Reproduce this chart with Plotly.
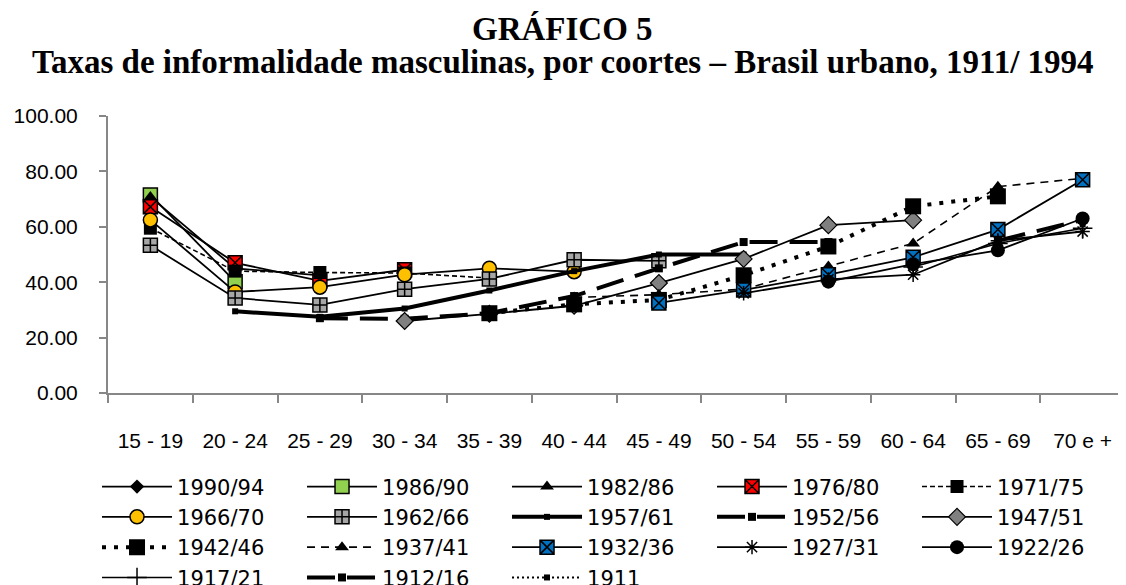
import plotly.graph_objects as go

ages = ["15 - 19", "20 - 24", "25 - 29", "30 - 34", "35 - 39", "40 - 44",
        "45 - 49", "50 - 54", "55 - 59", "60 - 64", "65 - 69", "70 e +"]

N = None
c1990_94 = [70.0, N, N, N, N, N, N, N, N, N, N, N]
c1986_90 = [71.5, 40.2, N, N, N, N, N, N, N, N, N, N]
c1982_86 = [70.8, 45.0, 42.5, N, N, N, N, N, N, N, N, N]
c1976_80 = [67.2, 47.0, 40.5, 44.5, N, N, N, N, N, N, N, N]
c1971_75 = [59.5, 44.0, 43.5, 43.3, 41.5, N, N, N, N, N, N, N]
c1966_70 = [62.5, 36.5, 38.2, 42.7, 45.0, 43.8, N, N, N, N, N, N]
c1962_66 = [53.3, 34.3, 31.8, 37.5, 41.2, 48.1, 47.7, N, N, N, N, N]
c1957_61 = [N, 29.5, 27.5, 30.5, 37.0, 44.0, 50.0, 50.0, N, N, N, N]
c1952_56 = [N, N, 27.0, 26.8, 28.8, 35.0, 45.0, 54.5, 54.5, N, N, N]
c1947_51 = [N, N, N, 26.0, 28.6, 31.5, 39.7, 48.4, 60.6, 62.4, N, N]
c1942_46 = [N, N, N, N, 28.8, 32.0, 33.6, 42.5, 52.9, 67.4, 71.0, N]
c1937_41 = [N, N, N, N, N, 34.5, 35.5, 37.5, 45.7, 54.0, 74.5, 77.5]
c1932_36 = [N, N, N, N, N, N, 32.5, 37.2, 42.7, 49.0, 59.0, 77.0]
c1927_31 = [N, N, N, N, N, N, N, 36.0, 41.0, 42.7, 55.0, 58.3]
c1922_26 = [N, N, N, N, N, N, N, N, 40.2, 46.5, 51.5, 63.0]
c1917_21 = [N, N, N, N, N, N, N, N, N, 45.5, 54.0, 59.5]
c1912_16 = [N, N, N, N, N, N, N, N, N, N, 55.0, 62.5]
c1911 = [N, N, N, N, N, N, N, N, N, N, N, 61.0]

yticks = [0, 20, 40, 60, 80, 100]

BLK = "black"
series = [
    ("1990/94", c1990_94, dict(width=1.8, color=BLK), dict(symbol="diamond", size=11, color=BLK)),
    ("1986/90", c1986_90, dict(width=1.8, color=BLK), dict(symbol="square", size=14, color="#92D050", line=dict(color=BLK, width=1.5))),
    ("1982/86", c1982_86, dict(width=1.8, color=BLK), dict(symbol="triangle-up", size=12, color=BLK)),
    ("1976/80", c1976_80, dict(width=1.8, color=BLK), dict(symbol="square-x", size=14, color="#FF0000", line=dict(color=BLK, width=1.5))),
    ("1971/75", c1971_75, dict(width=1.6, color=BLK, dash="5px,3px"), dict(symbol="square", size=13, color=BLK)),
    ("1966/70", c1966_70, dict(width=1.8, color=BLK), dict(symbol="circle", size=14, color="#FFC000", line=dict(color=BLK, width=1.5))),
    ("1962/66", c1962_66, dict(width=1.8, color=BLK), dict(symbol="square-cross", size=14, color="#A6A6A6", line=dict(color=BLK, width=1.5))),
    ("1957/61", c1957_61, dict(width=4, color=BLK), dict(symbol="square", size=6, color=BLK)),
    ("1952/56", c1952_56, dict(width=4, color=BLK, dash="28px,12px"), dict(symbol="square", size=8, color=BLK)),
    ("1947/51", c1947_51, dict(width=1.8, color=BLK), dict(symbol="diamond", size=13, color="#808080", line=dict(color=BLK, width=1.2))),
    ("1942/46", c1942_46, dict(width=4, color=BLK, dash="4px,8px"), dict(symbol="square", size=16, color=BLK)),
    ("1937/41", c1937_41, dict(width=1.6, color=BLK, dash="8px,6px"), dict(symbol="triangle-up", size=12, color=BLK)),
    ("1932/36", c1932_36, dict(width=1.8, color=BLK), dict(symbol="square-x", size=14, color="#0070C0", line=dict(color=BLK, width=1.5))),
    ("1927/31", c1927_31, dict(width=1.8, color=BLK), dict(symbol="asterisk-open", size=12, color=BLK, line=dict(color=BLK, width=1.5))),
    ("1922/26", c1922_26, dict(width=1.8, color=BLK), dict(symbol="circle", size=14, color=BLK)),
    ("1917/21", c1917_21, dict(width=1.6, color=BLK), dict(symbol="cross-thin-open", size=14, color=BLK, line=dict(color=BLK, width=1.5))),
    ("1912/16", c1912_16, dict(width=4, color=BLK, dash="28px,12px"), dict(symbol="square", size=8, color=BLK)),
    ("1911", c1911, dict(width=2, color=BLK, dash="2px,3px"), dict(symbol="square", size=6, color=BLK)),
]

fig = go.Figure()
for name, vals, line, marker in series:
    fig.add_trace(go.Scatter(x=ages, y=vals, name=name, mode="lines+markers",
                             line=line, marker=marker, connectgaps=False))

AX = "#878787"
fig.update_layout(
    width=1126, height=585,
    margin=dict(l=100, r=9, t=108, b=200, autoexpand=False),
    paper_bgcolor="white", plot_bgcolor="white",
    font=dict(family="Liberation Sans, Arial, sans-serif", size=21, color="black"),
    showlegend=True,
    legend=dict(orientation="h", x=-0.0108, xanchor="left", y=-0.265, yanchor="top",
                itemwidth=70, entrywidth=120, entrywidthmode="pixels",
                traceorder="normal",
                font=dict(family="DejaVu Sans, Verdana, sans-serif", size=21),
                bgcolor="rgba(0,0,0,0)"),
    annotations=[
        dict(text="<b>GRÁFICO 5</b>", xref="paper", yref="paper", x=0.447, y=1.315,
             xanchor="center", yanchor="middle", showarrow=False,
             font=dict(family="Liberation Serif, Times New Roman, serif", size=33)),
        dict(text="<b>Taxas de informalidade masculinas, por coortes – Brasil urbano, 1911/ 1994</b>",
             xref="paper", yref="paper", x=0.447, y=1.195,
             xanchor="center", yanchor="middle", showarrow=False,
             font=dict(family="Liberation Serif, Times New Roman, serif", size=33)),
    ],
)
fig.update_xaxes(type="category", categoryorder="array", categoryarray=ages,
                 range=[-0.5, len(ages) - 0.5],
                 tickson="boundaries", ticks="outside", ticklen=8, tickcolor=AX, tickwidth=2,
                 showline=True, linecolor=AX, linewidth=2, showgrid=False, zeroline=False,
                 ticklabelstandoff=28)
fig.update_yaxes(range=[0, 100], tickvals=yticks, tickformat=".2f",
                 ticks="outside", ticklen=7, tickcolor=AX, tickwidth=2,
                 showline=True, linecolor=AX, linewidth=2, showgrid=False, zeroline=False,
                 ticklabelstandoff=17)

fig.write_html("out.html")
